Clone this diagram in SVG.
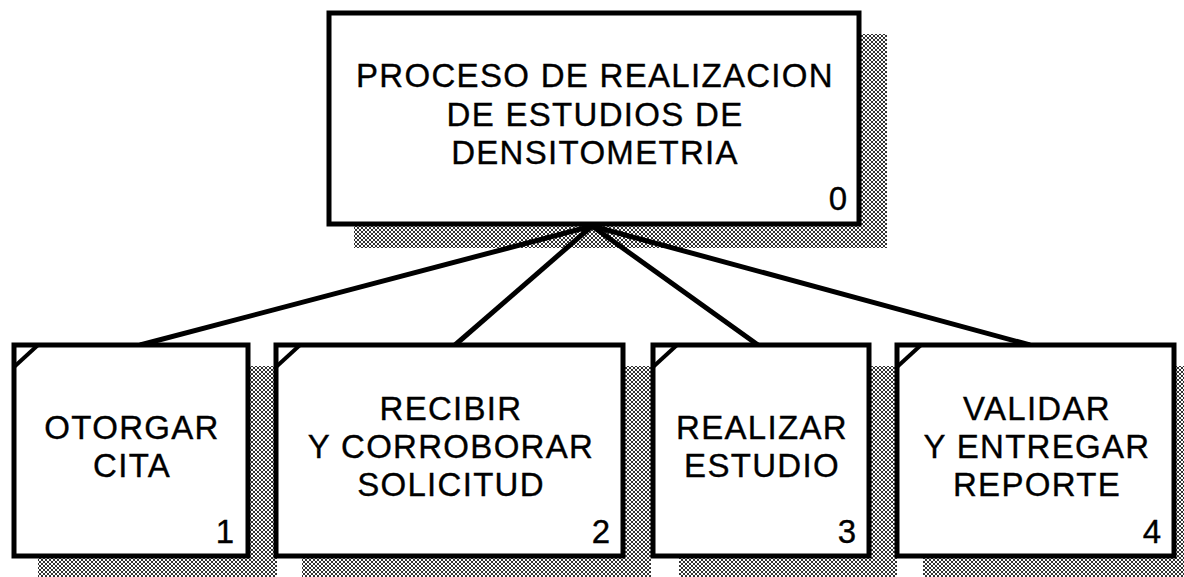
<svg xmlns="http://www.w3.org/2000/svg" width="1184" height="577" viewBox="0 0 1184 577">
<defs>
<pattern id="dots" x="0" y="0" width="4" height="4" patternUnits="userSpaceOnUse">
<rect width="4" height="4" fill="#fff"/>
<rect x="1" y="0" width="2" height="1" fill="#333"/>
<rect x="0" y="1" width="1" height="2" fill="#333"/>
<rect x="3" y="1" width="1" height="2" fill="#333"/>
<rect x="1" y="3" width="2" height="1" fill="#333"/>
</pattern>
</defs>
<style>
.shadow{fill:url(#dots);shape-rendering:crispEdges}
.box{fill:#fff;stroke:#000;stroke-width:5}
.corner{stroke:#000;stroke-width:4;fill:none}
.conn{stroke:#000;stroke-width:5;fill:none;stroke-linecap:butt}
.t{font-family:"Liberation Sans",Arial,sans-serif;font-size:33px;letter-spacing:1.3px;fill:#000;stroke:#000;stroke-width:0.35;text-anchor:middle}
.n{font-family:"Liberation Sans",Arial,sans-serif;font-size:33px;fill:#000;stroke:#000;stroke-width:0.35;text-anchor:end}
</style>
<rect width="1184" height="577" fill="#fff"/>
<g id="shadows">
<rect class="shadow" x="354" y="34" width="533" height="214"/>
<rect class="shadow" x="38" y="366" width="239" height="215"/>
<rect class="shadow" x="302" y="366" width="349" height="215"/>
<rect class="shadow" x="679" y="366" width="218" height="215"/>
<rect class="shadow" x="923" y="366" width="261" height="215"/>
</g>
<g id="connectors">
<line class="conn" x1="592" y1="226" x2="140" y2="345"/>
<line class="conn" x1="592" y1="226" x2="455" y2="345"/>
<line class="conn" x1="592" y1="226" x2="758" y2="345"/>
<line class="conn" x1="592" y1="226" x2="1030" y2="345"/>
</g>
<g id="node0">
<rect class="box" x="329" y="13" width="530" height="211"/>
<text class="t" x="595" y="87">PROCESO DE REALIZACION</text>
<text class="t" x="595" y="126">DE ESTUDIOS DE</text>
<text class="t" x="595" y="164">DENSITOMETRIA</text>
<text class="n" x="847" y="210">0</text>
</g>
<g id="node1">
<rect class="box" x="14" y="345" width="234" height="211"/>
<path class="corner" d="M38 345 L14 367"/>
<text class="t" x="132" y="439">OTORGAR</text>
<text class="t" x="132" y="477">CITA</text>
<text class="n" x="234" y="543">1</text>
</g>
<g id="node2">
<rect class="box" x="276" y="345" width="347" height="211"/>
<path class="corner" d="M300 345 L276 367"/>
<text class="t" x="451" y="420">RECIBIR</text>
<text class="t" x="451" y="458">Y CORROBORAR</text>
<text class="t" x="451" y="496">SOLICITUD</text>
<text class="n" x="610" y="543">2</text>
</g>
<g id="node3">
<rect class="box" x="653" y="345" width="216" height="211"/>
<path class="corner" d="M677 345 L653 367"/>
<text class="t" x="762" y="439">REALIZAR</text>
<text class="t" x="762" y="477">ESTUDIO</text>
<text class="n" x="856" y="543">3</text>
</g>
<g id="node4">
<rect class="box" x="897" y="345" width="277" height="211"/>
<path class="corner" d="M921 345 L897 367"/>
<text class="t" x="1037" y="420">VALIDAR</text>
<text class="t" x="1037" y="458">Y ENTREGAR</text>
<text class="t" x="1037" y="496">REPORTE</text>
<text class="n" x="1161" y="543">4</text>
</g>
</svg>
